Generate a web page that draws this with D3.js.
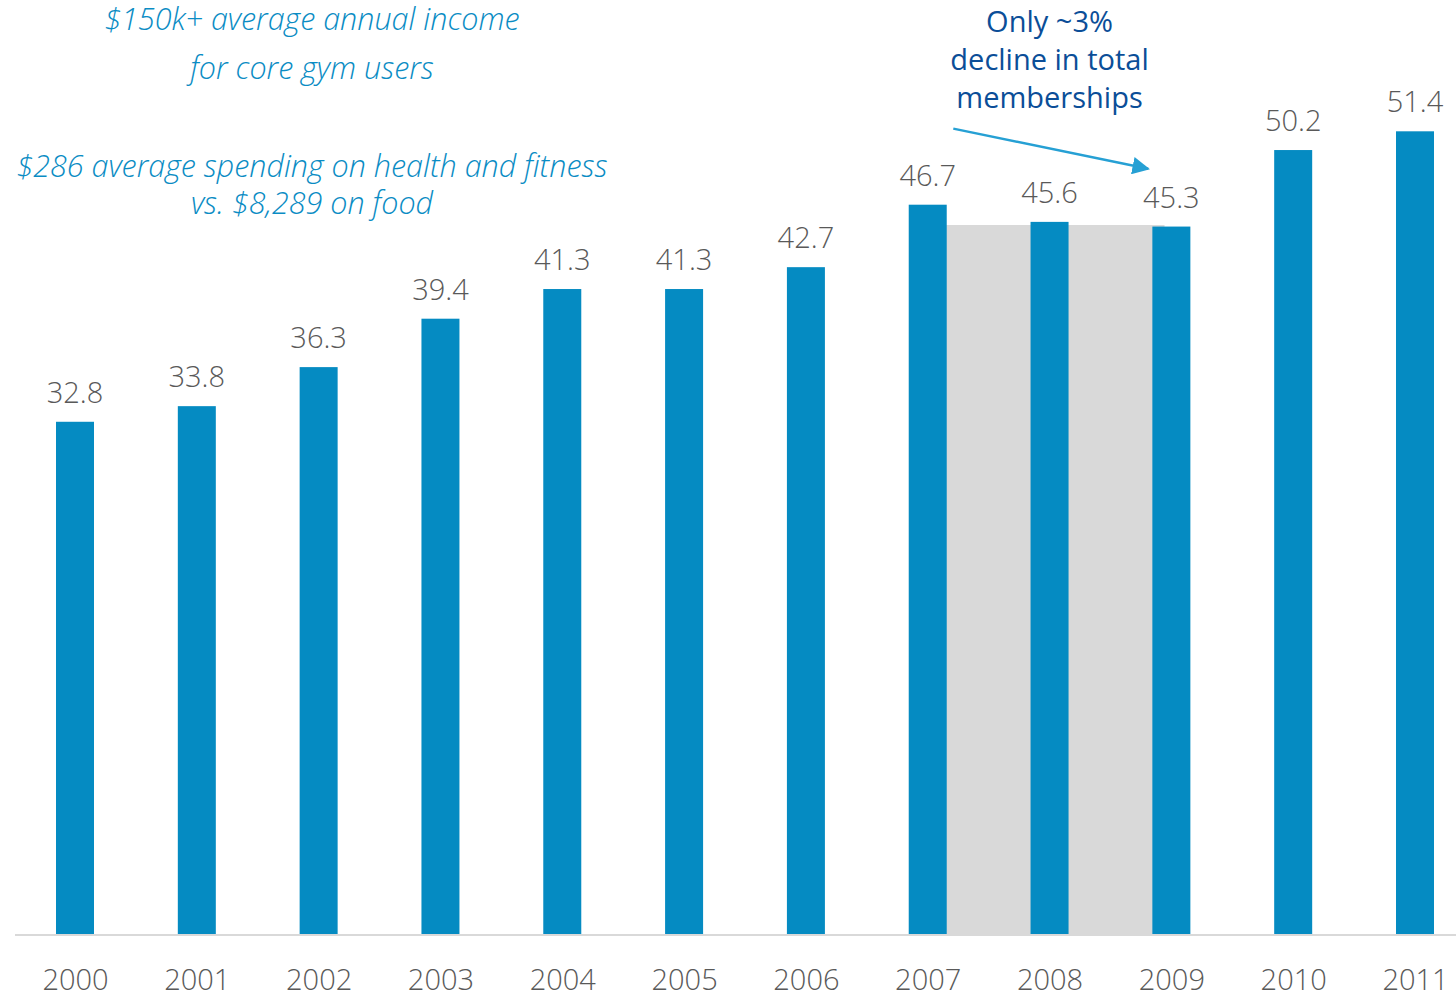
<!DOCTYPE html>
<html>
<head>
<meta charset="utf-8">
<script src="https://cdn.jsdelivr.net/npm/d3@7"></script>
<style>
  html, body { margin: 0; padding: 0; background: #fff; }
  svg { display: block; }
  text { font-family: "Open Sans", "Noto Sans", sans-serif; }
</style>
</head>
<body>
<svg id="chart" width="1456" height="997"></svg>
<script>
// Gym memberships (millions), 2000-2011
var years = ["2000", "2001", "2002", "2003", "2004", "2005", "2006", "2007", "2008", "2009", "2010", "2011"];
var members = [32.8, 33.8, 36.3, 39.4, 41.3, 41.3, 42.7, 46.7, 45.6, 45.3, 50.2, 51.4];
var valueLabels = ["32.8", "33.8", "36.3", "39.4", "41.3", "41.3", "42.7", "46.7", "45.6", "45.3", "50.2", "51.4"];
// recession band behind 2007-2009
var bandYears = ["2007", "2009"];
var bandLevel = 45.4;
var noteLeft = [
  "$150k+ average annual income",
  "for core gym users",
  "$286 average spending on health and fitness",
  "vs. $8,289 on food"
];
var noteRight = ["Only ~3%", "decline in total", "memberships"];

(function () {
  "use strict";
  var svg = d3.select("#chart");
  var W = 1456, base = 934, bw = 38;

  var x = d3.scalePoint().domain(years).range([75, 1415]);
  var step = x.step();
  var y = d3.scaleLinear().domain([0, 60]).range([base, -3]);

  // grey band
  svg.append("rect")
    .attr("x", x(bandYears[0]))
    .attr("y", y(bandLevel))
    .attr("width", x(bandYears[1]) - x(bandYears[0]) - bw * 0.18)
    .attr("height", base - y(bandLevel))
    .attr("fill", "#d9d9d9");

  // bars
  svg.selectAll("rect.bar").data(members).enter().append("rect")
    .attr("class", "bar")
    .attr("x", function (d, i) { return x(years[i]) - bw / 2; })
    .attr("y", function (d) { return y(d); })
    .attr("width", bw)
    .attr("height", function (d) { return base - y(d); })
    .attr("fill", "#058bc2");

  // value labels
  svg.selectAll("text.val").data(members).enter().append("text")
    .attr("class", "val")
    .attr("x", function (d, i) { return x(years[i]); })
    .attr("y", function (d) { return y(d) - 19; })
    .attr("text-anchor", "middle")
    .attr("font-size", 29).attr("font-weight", 300)
    .attr("fill", "#595959")
    .text(function (d, i) { return valueLabels[i]; });

  // x axis
  var axis = svg.append("g").attr("transform", "translate(0," + base + ")")
    .call(d3.axisBottom(x).tickSize(0).tickPadding(56));
  axis.select(".domain").remove();
  axis.append("line").attr("x1", 15).attr("x2", W).attr("y1", 1).attr("y2", 1)
    .attr("stroke", "#d9d9d9").attr("stroke-width", 2);
  axis.selectAll(".tick text")
    .attr("font-family", "'Open Sans', 'Noto Sans', sans-serif")
    .attr("font-size", 29).attr("font-weight", 300)
    .attr("fill", "#595959").attr("dy", 0);

  // left annotations
  var lineY = [30, 79, 177, 214];
  svg.selectAll("text.noteL").data(noteLeft).enter().append("text")
    .attr("class", "noteL")
    .attr("x", 312).attr("y", function (d, i) { return lineY[i]; })
    .attr("text-anchor", "middle")
    .attr("font-size", 30.5).attr("font-style", "italic").attr("font-weight", 300)
    .attr("fill", "#0a8cc4")
    .text(function (d) { return d; });

  // right annotation
  svg.selectAll("text.noteR").data(noteRight).enter().append("text")
    .attr("class", "noteR")
    .attr("x", x(bandYears[0]) + step * 1)
    .attr("y", function (d, i) { return 32 + i * 38; })
    .attr("text-anchor", "middle")
    .attr("font-size", 29)
    .attr("fill", "#0b4e98")
    .text(function (d) { return d; });

  // arrow
  svg.append("defs").append("marker")
    .attr("id", "head").attr("viewBox", "0 0 10 10")
    .attr("refX", 9).attr("refY", 5)
    .attr("markerWidth", 7).attr("markerHeight", 7)
    .attr("markerUnits", "strokeWidth")
    .attr("orient", "auto")
    .append("path").attr("d", "M0,0L10,5L0,10Z").attr("fill", "#26a0d4");
  svg.append("line")
    .attr("x1", x(bandYears[0]) + step * 0.21).attr("y1", y(51.57))
    .attr("x2", x(bandYears[1]) - step * 0.19).attr("y2", y(49.0))
    .attr("stroke", "#26a0d4").attr("stroke-width", 2.5)
    .attr("marker-end", "url(#head)");
})();
</script>
</body>
</html>
